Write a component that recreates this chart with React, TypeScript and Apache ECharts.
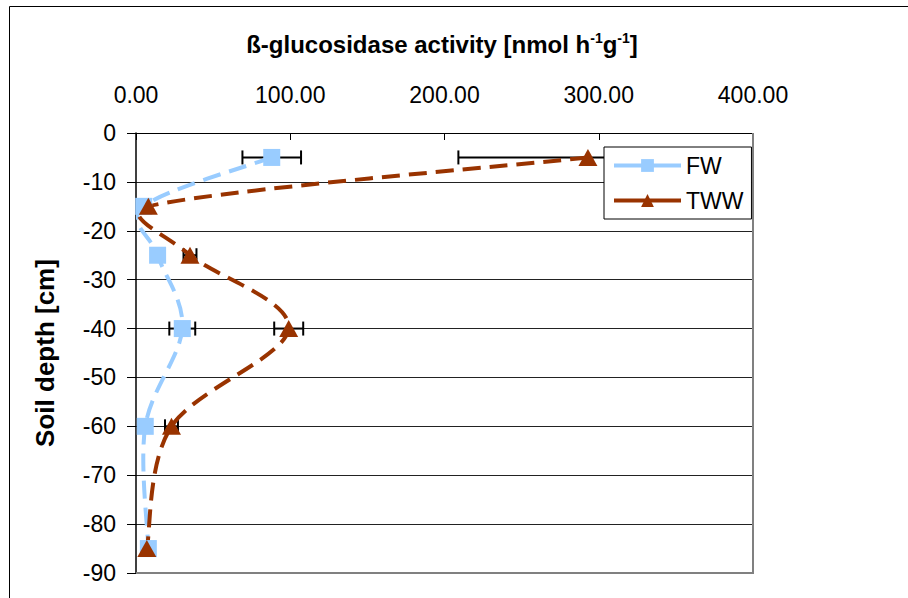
import React, { useEffect, useRef } from "react";
import * as echarts from "echarts";

const depths = [-5, -15, -25, -40, -60, -85];
const fwValues = [88, 5, 14, 30, 6, 8];
const twwValues = [293, 8, 35, 99, 23, 7];
const fwErr = [19, 0, 3, 8.4, 3, 0];
const twwErr = [84, 0, 4.2, 9.4, 4.2, 0];
const xTicks = [0, 100, 200, 300, 400];
const seriesNames = ["FW", "TWW"];
const colors = ["#99CCFF", "#993300"];

const FONT = "'Liberation Sans', Arial, sans-serif";

function errData(vals: number[], errs: number[]) {
  return vals
    .map((v, i) => [depths[i], v - errs[i], v + errs[i]])
    .filter((d, i) => errs[i] > 0);
}

// Excel-style smoothed curve (Bezier, tension 1/6, arm capped at half segment)
function excelPath(pts: number[][]): string {
  const f = 1 / 6;
  let d = `M${pts[0][0]},${pts[0][1]}`;
  for (let i = 0; i < pts.length - 1; i++) {
    const p0 = pts[i - 1] || pts[i];
    const p1 = pts[i];
    const p2 = pts[i + 1];
    const p3 = pts[i + 2] || pts[i + 1];
    const d12 = Math.hypot(p2[0] - p1[0], p2[1] - p1[1]);
    let a = [(p2[0] - p0[0]) * f, (p2[1] - p0[1]) * f];
    let b = [(p3[0] - p1[0]) * f, (p3[1] - p1[1]) * f];
    const la = Math.hypot(a[0], a[1]);
    const lb = Math.hypot(b[0], b[1]);
    if (la > d12 / 2 && la > 0) a = a.map((v) => (v * d12) / 2 / la);
    if (lb > d12 / 2 && lb > 0) b = b.map((v) => (v * d12) / 2 / lb);
    d += ` C${p1[0] + a[0]},${p1[1] + a[1]} ${p2[0] - b[0]},${p2[1] - b[1]} ${p2[0]},${p2[1]}`;
  }
  return d;
}

export default function App() {
  const ref = useRef<HTMLDivElement>(null);
  useEffect(() => {
    if (!ref.current) return;
    const chart = echarts.init(ref.current, undefined, { renderer: "svg" });
    const renderErr = (params: any, api: any) => {
      const y = api.value(0);
      const lo = api.value(1);
      const hi = api.value(2);
      const p1 = api.coord([lo, y]);
      const p2 = api.coord([hi, y]);
      const cap = 7;
      const style = { stroke: "#000", lineWidth: 2 };
      return {
        type: "group",
        children: [
          { type: "line", shape: { x1: p1[0], y1: p1[1], x2: p2[0], y2: p2[1] }, style },
          { type: "line", shape: { x1: p1[0], y1: p1[1] - cap, x2: p1[0], y2: p1[1] + cap }, style },
          { type: "line", shape: { x1: p2[0], y1: p2[1] - cap, x2: p2[0], y2: p2[1] + cap }, style },
        ],
      };
    };
    const curve = (vals: number[], color: string) => (params: any, api: any) => {
      if (params.dataIndex !== 0) return null;
      const pts = vals.map((v, i) => api.coord([v, depths[i]]));
      return {
        type: "path",
        shape: { pathData: excelPath(pts) },
        style: { fill: "none", stroke: color, lineWidth: 4, lineDash: [18, 9] },
      };
    };
    const option: any = {
      animation: false,
      textStyle: { fontFamily: FONT, color: "#000" },
      grid: { left: 136, top: 133, width: 617, height: 440 },
      xAxis: {
        type: "value",
        position: "top",
        min: xTicks[0],
        max: xTicks[xTicks.length - 1],
        interval: 100,
        axisLine: { show: true, onZero: false, lineStyle: { color: "#000", width: 1 } },
        axisTick: { show: true, inside: true, length: 7, lineStyle: { color: "#000" } },
        axisLabel: {
          formatter: (v: number) => v.toFixed(2),
          fontSize: 23,
          color: "#000",
          fontFamily: FONT,
          margin: 27,
        },
        splitLine: { show: false },
      },
      yAxis: {
        type: "value",
        min: -90,
        max: 0,
        interval: 10,
        axisLine: { show: true, onZero: false, lineStyle: { color: "#000", width: 1.5 } },
        axisTick: { show: true, length: 9, lineStyle: { color: "#000" } },
        axisLabel: { fontSize: 23, color: "#000", fontFamily: FONT, margin: 20 },
        splitLine: { show: true, lineStyle: { color: "#222", width: 1 } },
        name: "Soil depth [cm]",
        nameLocation: "middle",
        nameGap: 78,
        nameRotate: 90,
        nameTextStyle: { fontSize: 26, fontWeight: "bold", fontFamily: FONT, color: "#000" },
      },
      legend: {
        data: seriesNames,
        orient: "vertical",
        left: 604,
        top: 147,
        itemWidth: 67,
        itemHeight: 16,
        itemGap: 12,
        padding: [7, 8, 7, 8],
        backgroundColor: "#fff",
        borderColor: "#000",
        borderWidth: 1,
        borderRadius: 0,
        textStyle: { fontSize: 23, fontFamily: FONT, color: "#000" },
        lineStyle: { type: "solid", width: 4, opacity: 1 },
      },
      series: [
        {
          type: "custom",
          name: "FW err",
          renderItem: renderErr,
          data: errData(fwValues, fwErr),
          encode: { x: [1, 2], y: 0 },
          clip: false,
          z: 2,
        },
        {
          type: "custom",
          name: "TWW err",
          renderItem: renderErr,
          data: errData(twwValues, twwErr),
          encode: { x: [1, 2], y: 0 },
          clip: false,
          z: 2,
        },
        {
          type: "custom",
          name: "FW curve",
          renderItem: curve(fwValues, colors[0]),
          data: fwValues.map((v, i) => [v, depths[i]]),
          encode: { x: 0, y: 1 },
          clip: true,
          z: 3,
        },
        {
          type: "custom",
          name: "TWW curve",
          renderItem: curve(twwValues, colors[1]),
          data: twwValues.map((v, i) => [v, depths[i]]),
          encode: { x: 0, y: 1 },
          clip: true,
          z: 3,
        },
        {
          type: "line",
          name: "FW",
          data: fwValues.map((v, i) => [v, depths[i]]),
          symbol: "rect",
          symbolSize: 17,
          showAllSymbol: true,
          lineStyle: { color: colors[0], width: 0, opacity: 0 },
          itemStyle: { color: colors[0] },
          z: 4,
        },
        {
          type: "line",
          name: "TWW",
          data: twwValues.map((v, i) => [v, depths[i]]),
          symbol: "triangle",
          symbolSize: [19, 17],
          showAllSymbol: true,
          lineStyle: { color: colors[1], width: 0, opacity: 0 },
          itemStyle: { color: colors[1] },
          z: 5,
        },
      ],
      graphic: [
        {
          type: "rect",
          shape: { x: 9.5, y: 6.5, width: 1000, height: 1000 },
          style: { fill: "none", stroke: "#000", lineWidth: 1 },
          z: 0,
          silent: true,
        },
        {
          type: "line",
          shape: { x1: 753, y1: 133, x2: 753, y2: 574 },
          style: { stroke: "#808080", lineWidth: 2 },
          z: 1,
          silent: true,
        },
        {
          type: "line",
          shape: { x1: 136, y1: 573, x2: 754, y2: 573 },
          style: { stroke: "#808080", lineWidth: 2 },
          z: 1,
          silent: true,
        },
        {
          type: "text",
          x: 442,
          y: 44,
          style: {
            text: "{b|ß-glucosidase activity [nmol h}{s|-1}{b|g}{s|-1}{b|]}",
            align: "center",
            verticalAlign: "middle",
            rich: {
              b: { fontSize: 24, fontWeight: "bold", fontFamily: FONT, lineHeight: 27, fill: "#000" },
              s: {
                fontSize: 14,
                fontWeight: "bold",
                fontFamily: FONT,
                lineHeight: 27,
                verticalAlign: "top",
                fill: "#000",
              },
            },
          },
          z: 10,
        },
      ],
    };
    chart.setOption(option);
    return () => chart.dispose();
  }, []);
  return (
    <div
      ref={ref}
      style={{ position: "absolute", left: 0, top: 0, width: 908, height: 598, background: "#fff" }}
    />
  );
}
